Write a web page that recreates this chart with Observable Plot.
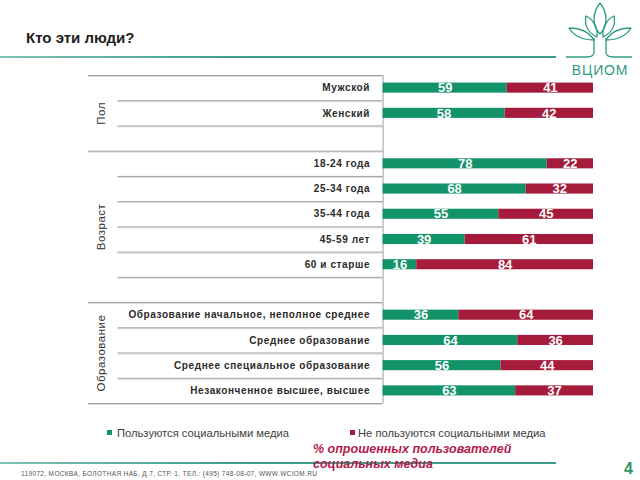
<!DOCTYPE html>
<html>
<head>
<meta charset="utf-8">
<script src="https://cdn.jsdelivr.net/npm/d3@7"></script>
<script src="https://cdn.jsdelivr.net/npm/@observablehq/plot@0.6"></script>
<style>
  html, body { margin: 0; padding: 0; background: #fff; }
  #page { position: relative; width: 640px; height: 480px; overflow: hidden; font-family: "Liberation Sans", Arial, sans-serif; }
  #page > svg { position: absolute; left: 0; top: 0; }
</style>
</head>
<body>
<div id="page">
<svg id="deco" width="640" height="480" xmlns="http://www.w3.org/2000/svg" style="font-family:'Liberation Sans', Arial, sans-serif">
  <defs>
    <linearGradient id="tealLine" x1="0" x2="1" y1="0" y2="0">
      <stop offset="0" stop-color="#7fc3b6"/>
      <stop offset="0.45" stop-color="#3d9b89"/>
      <stop offset="1" stop-color="#3d9b89"/>
    </linearGradient>
  </defs>
  <text x="26" y="43" font-size="15" font-weight="bold" fill="#1e1e1e">Кто эти люди?</text>
  <rect x="0" y="56" width="556" height="2" fill="url(#tealLine)"/>
  <!-- logo -->
  <g fill="none" stroke="#2f9a82" stroke-width="1.3" stroke-linejoin="round">
    <path d="M600,3 C592,13 592,26 600,34 C608,26 608,13 600,3 Z"/>
    <path d="M586,16 C584,26 589,33 597,37 C598,28 594,20 586,16 Z"/>
    <path d="M614,16 C616,26 611,33 603,37 C602,28 606,20 614,16 Z"/>
    <path d="M569,28 C574,36 583,40 594,40 C589,32 580,28 569,28 Z"/>
    <path d="M631,28 C626,36 617,40 606,40 C611,32 620,28 631,28 Z"/>
    <path d="M594,38 L594,52 C594,56 591,57 587,57 L566,57"/>
    <path d="M606,38 L606,52 C606,56 609,57 613,57 L632,57"/>
  </g>
  <text x="600" y="75" text-anchor="middle" font-size="14" fill="#2f9a82" letter-spacing="0.8">ВЦИОМ</text>
  <!-- legend -->
  <rect x="107" y="430" width="5" height="5" fill="#13936a"/>
  <text x="117" y="437" font-size="11.2" fill="#404040">Пользуются социальными медиа</text>
  <rect x="350" y="430" width="5" height="5" fill="#a51b3b"/>
  <text x="358" y="437" font-size="11.2" fill="#404040">Не пользуются социальными медиа</text>
  <!-- footer -->
  <rect x="0" y="462" width="556" height="2" fill="url(#tealLine)"/>
  <text x="21" y="476" font-size="6.5" fill="#555" letter-spacing="0.35">119072, МОСКВА, БОЛОТНАЯ НАБ, Д 7, СТР. 1, ТЕЛ.: (495) 748-08-07, WWW.WCIOM.RU</text>
  <g font-size="12.5" font-style="italic" font-weight="bold" fill="#b01c4c">
    <text x="313" y="453">% опрошенных пользователей</text>
    <text x="313" y="468">социальных медиа</text>
  </g>
  <text x="624" y="474" font-size="16" font-weight="bold" fill="#2d9a5e">4</text>
</svg>
</div>
<script>
// ---- data ----
const rows = [
  "Мужской", "Женский", "",
  "18-24 года", "25-34 года", "35-44 года", "45-59 лет", "60 и старше", "",
  "Образование начальное, неполное среднее", "Среднее образование",
  "Среднее специальное образование", "Незаконченное высшее, высшее"
];
const users    = [59, 58, null, 78, 68, 55, 39, 16, null, 36, 64, 56, 63];
const nonUsers = [41, 42, null, 22, 32, 45, 61, 84, null, 64, 36, 44, 37];
const groupNames = ["Пол", "Возраст", "Образование"];
const groupSizes = [3, 6, 4];
const seriesNames = ["Пользуются социальными медиа", "Не пользуются социальными медиа"];

// ---- layout / style ----
const GREEN = "#13936a", RED = "#a51b3b";
const LABEL_AREA = -140;   // left extent of the label table in x units
const INNER_EDGE = -126;   // row separator start
const N = rows.length;

const table = rows.map((row, i) => ({row, i, use: users[i], non: nonUsers[i]})).filter(d => d.row !== "");
const edges = [0];
groupSizes.forEach(s => edges.push(edges[edges.length - 1] + s));
const bounds = d3.range(N + 1).map(k => ({k, major: edges.includes(k)}));
const groups = groupNames.map((name, g) => ({name, mid: (edges[g] + edges[g + 1]) / 2}));

const chart = Plot.plot({
  width: 640,
  height: 480,
  marginTop: 75,
  marginBottom: 77,
  marginLeft: 88,
  marginRight: 47,
  style: {fontFamily: "'Liberation Sans', Arial, sans-serif", background: "transparent", overflow: "visible"},
  x: {domain: [LABEL_AREA, 100], axis: null},
  y: {domain: [0, N], reverse: true, axis: null},
  marks: [
    Plot.ruleY(bounds, {y: "k", x1: d => d.major ? LABEL_AREA : INNER_EDGE, x2: 0, stroke: "#dcdcdc", dy: 1}),
    Plot.ruleY(bounds, {y: "k", x1: d => d.major ? LABEL_AREA : INNER_EDGE, x2: 0, stroke: "#a0a0a0"}),
    Plot.ruleX([0], {y1: 0, y2: N, stroke: "#a0a0a0"}),
    Plot.rect(table, {x1: 0, x2: "use", y1: d => d.i + 0.3, y2: d => d.i + 0.7, fill: GREEN}),
    Plot.rect(table, {x1: "use", x2: d => d.use + d.non, y1: d => d.i + 0.3, y2: d => d.i + 0.7, fill: RED}),
    Plot.text(table, {x: d => d.use / 2, y: d => d.i + 0.5, text: "use", fill: "white", fontWeight: "bold", fontSize: 13}),
    Plot.text(table, {x: d => d.use + d.non / 2, y: d => d.i + 0.5, text: "non", fill: "white", fontWeight: "bold", fontSize: 13}),
    Plot.text(table, {x: 0, y: d => d.i + 0.5, text: "row", textAnchor: "end", dx: -13, fill: "#2a2a2a", fontWeight: "bold", fontSize: 10}),
    Plot.text(groups, {x: LABEL_AREA, y: "mid", text: "name", dx: 13, rotate: -90, fill: "#333", fontSize: 11.5})
  ]
});
const textGroups = chart.querySelectorAll('g[aria-label="text"]');
if (textGroups[2]) textGroups[2].setAttribute("letter-spacing", "0.6");
if (textGroups[3]) textGroups[3].setAttribute("letter-spacing", "0.5");
document.getElementById("page").insertBefore(chart, document.getElementById("deco"));
</script>
</body>
</html>
